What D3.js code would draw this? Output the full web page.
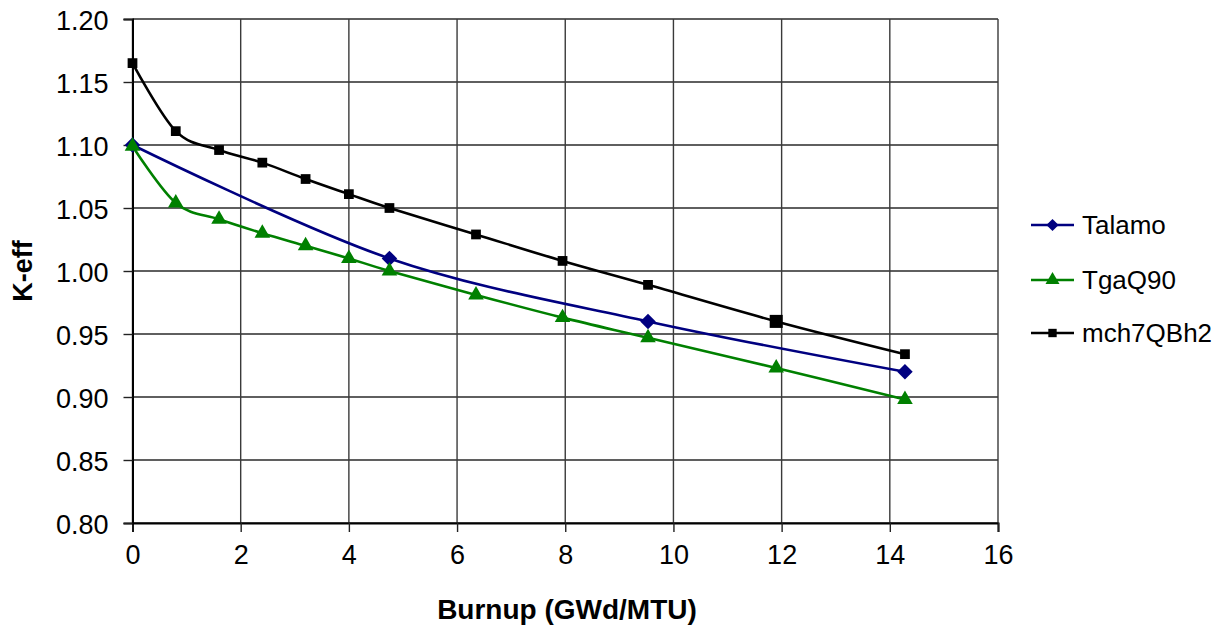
<!DOCTYPE html>
<html>
<head>
<meta charset="utf-8">
<script src="https://cdn.jsdelivr.net/npm/d3@7"></script>
<style>
  html, body { margin: 0; padding: 0; background: #fff; }
  svg { display: block; font-family: "Liberation Sans", Arial, sans-serif; }
</style>
</head>
<body>
<svg id="chart" width="1222" height="630"></svg>
<script>
// Burnup steps (GWd/MTU) and k-eff for each calculation
const burnupFull = [0, 0.8, 1.6, 2.4, 3.2, 4.0, 4.75, 6.35, 7.95, 9.53, 11.9, 14.28];
const burnupTalamo = [0, 4.75, 9.53, 14.28];
const keffTalamo = [1.100, 1.010, 0.960, 0.920];
const keffTgaQ90 = [1.099, 1.054, 1.041, 1.030, 1.020, 1.010, 1.000, 0.981, 0.963, 0.947, 0.923, 0.898];
const keffMch7QBh2 = [1.165, 1.111, 1.096, 1.086, 1.073, 1.061, 1.050, 1.029, 1.008, 0.989, 0.960, 0.934];
const xTicks = [0, 2, 4, 6, 8, 10, 12, 14, 16];
const yTicks = [0.80, 0.85, 0.90, 0.95, 1.00, 1.05, 1.10, 1.15, 1.20];
const seriesNames = ["Talamo", "TgaQ90", "mch7QBh2"];

const svg = d3.select("#chart");
const plot = { left: 132.5, right: 998, top: 19, bottom: 523 };

const x = d3.scaleLinear().domain([0, 16]).range([plot.left, plot.right]);
const y = d3.scaleLinear().domain([0.80, 1.20]).range([plot.bottom, plot.top]);

// grid lines
const grid = svg.append("g");
grid.selectAll("line.h").data(yTicks).join("line")
  .attr("x1", plot.left).attr("x2", plot.right)
  .attr("y1", d => y(d)).attr("y2", d => y(d))
  .attr("stroke", "#2a2a2a").attr("stroke-width", 1.4);
grid.selectAll("line.v").data(xTicks).join("line")
  .attr("x1", d => x(d)).attr("x2", d => x(d))
  .attr("y1", plot.top).attr("y2", plot.bottom)
  .attr("stroke", "#3a3a3a").attr("stroke-width", 1.4);

// axes
const xAxis = d3.axisBottom(x).tickValues(xTicks).tickSize(9).tickPadding(13).tickFormat(d3.format("d"));
const yAxis = d3.axisLeft(y).tickValues(yTicks).tickSize(9).tickPadding(15).tickFormat(d3.format(".2f"));

const gx = svg.append("g").attr("transform", `translate(0,${plot.bottom})`).call(xAxis);
const gy = svg.append("g").attr("transform", `translate(${plot.left},0)`).call(yAxis);
[gx, gy].forEach(g => {
  g.select(".domain").attr("stroke", "#000").attr("stroke-width", 2);
  g.selectAll(".tick line").attr("stroke", "#222").attr("stroke-width", 1.4);
  g.selectAll(".tick text").attr("fill", "#000").attr("font-size", 27)
    .attr("font-family", "Liberation Sans, Arial, sans-serif");
});
gy.selectAll(".tick text").attr("dy", "0.4em");

// axis titles
svg.append("text")
  .attr("x", 567).attr("y", 619)
  .attr("text-anchor", "middle").attr("font-size", 28).attr("font-weight", "bold")
  .text("Burnup (GWd/MTU)");
svg.append("text")
  .attr("transform", `translate(32,${(plot.top + plot.bottom) / 2}) rotate(-90)`)
  .attr("text-anchor", "middle").attr("font-size", 27).attr("font-weight", "bold")
  .text("K-eff");

// diamond marker: a square turned 45 degrees
const diamond = {
  draw(ctx, size) {
    const r = Math.sqrt(size / 2);
    ctx.moveTo(0, -r); ctx.lineTo(r, 0); ctx.lineTo(0, r); ctx.lineTo(-r, 0); ctx.closePath();
  }
};

// series
const series = [
  { name: seriesNames[0], xs: burnupTalamo, ys: keffTalamo, color: "#000080", symbol: diamond, size: 120, legendSize: 75 },
  { name: seriesNames[1], xs: burnupFull, ys: keffTgaQ90, color: "#008000", symbol: d3.symbolTriangle, size: 105, legendSize: 85 },
  { name: seriesNames[2], xs: burnupFull, ys: keffMch7QBh2, color: "#000000", symbol: d3.symbolSquare, size: 95, legendSize: 70 }
];

const line = d3.line().curve(d3.curveCardinal.tension(0))
  .x(d => x(d[0])).y(d => y(d[1]));

series.forEach(s => {
  const pts = s.xs.map((v, i) => [v, s.ys[i]]);
  svg.append("path").datum(pts)
    .attr("d", line).attr("fill", "none")
    .attr("stroke", s.color).attr("stroke-width", 2.6);
});

// markers drawn above all lines
series.forEach(s => {
  const pts = s.xs.map((v, i) => [v, s.ys[i]]);
  svg.append("g").selectAll("path").data(pts).join("path")
    .attr("d", d => {
      // the 11.9 point of mch7QBh2 is shown with an enlarged marker
      const sz = (s.name === "mch7QBh2" && d[0] === 11.9) ? 170 : s.size;
      return d3.symbol(s.symbol, sz)();
    })
    .attr("transform", d => `translate(${x(d[0])},${y(d[1])})`)
    .attr("fill", s.color);
});

// legend
const legendY = [225, 280, 333];
const lg = svg.append("g");
series.forEach((s, i) => {
  const gy0 = legendY[i];
  lg.append("line").attr("x1", 1031).attr("x2", 1074)
    .attr("y1", gy0).attr("y2", gy0)
    .attr("stroke", s.color).attr("stroke-width", 2.6);
  lg.append("path").attr("d", d3.symbol(s.symbol, s.legendSize)())
    .attr("transform", `translate(1052.5,${gy0})`).attr("fill", s.color);
  lg.append("text").attr("x", 1082).attr("y", gy0).attr("dy", "0.36em")
    .attr("font-size", 26).attr("fill", "#000").text(s.name);
});
</script>
</body>
</html>
